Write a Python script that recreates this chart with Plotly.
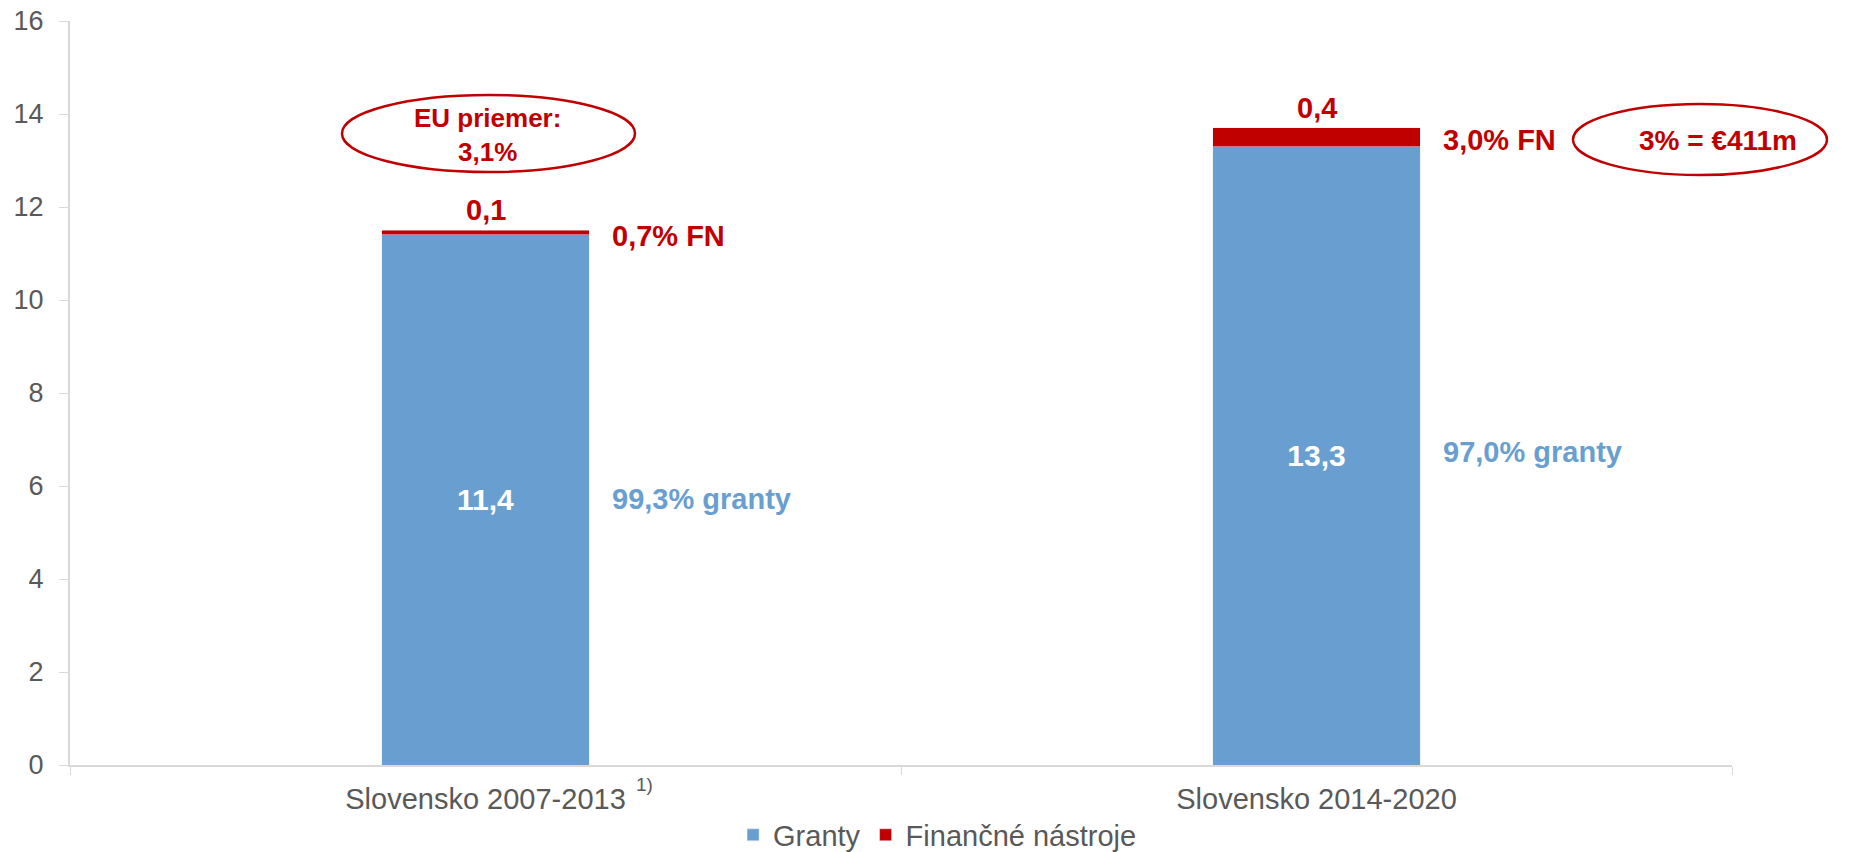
import plotly.graph_objects as go

categories = ["Slovensko 2007-2013", "Slovensko 2014-2020"]
tick_labels = ["Slovensko 2007-2013", "Slovensko 2014-2020"]
footnote_mark = "1)"
granty = [11.4, 13.3]
fin_nastroje = [0.1, 0.4]
granty_share = ["99,3% granty", "97,0% granty"]
fn_share = ["0,7% FN", "3,0% FN"]
granty_labels = ["11,4", "13,3"]
fn_labels = ["0,1", "0,4"]

BLUE = "#699FD0"
RED = "#C00000"
GREY = "#595959"
AXIS = "#D9D9D9"
FONT = "Liberation Sans, Arial, sans-serif"

# plot area geometry (pixels)
L, R_, T, B = 70, 128, 21, 87
W, H = 1860, 852
plot_w = W - L - R_
plot_h = H - T - B
YMAX = 16.0


def px_to_y(py):
    return (H - B - py) / plot_h * YMAX


def px_to_px(px):
    return (px - L) / plot_w


fig = go.Figure()
fig.add_trace(go.Bar(
    x=categories, y=granty, name="Granty", marker_color=BLUE, width=0.25,
    text=granty_labels, textposition="inside", insidetextanchor="middle",
    textfont=dict(color="white", size=30, family=FONT, weight="bold"),
    hoverinfo="skip",
))
fig.add_trace(go.Bar(
    x=categories, y=fin_nastroje, name="Finančné nástroje", marker_color=RED, width=0.25,
    hoverinfo="skip",
))

ann = []
bold = dict(family=FONT, size=29, weight="bold")
fn_shift = [-3, -3]
gr_shift = [1, 4]
for i, (g, f, lab) in enumerate(zip(granty, fin_nastroje, fn_labels)):
    ann.append(dict(x=i, y=g + f, yshift=20, text=lab, showarrow=False, yanchor="middle",
                    xanchor="center", font=dict(bold, color=RED)))
    ann.append(dict(x=i + 0.15, y=g + f / 2, yshift=fn_shift[i], text=fn_share[i],
                    showarrow=False, xanchor="left", yanchor="middle", font=dict(bold, color=RED)))
    ann.append(dict(x=i + 0.15, y=g / 2, yshift=gr_shift[i], text=granty_share[i],
                    showarrow=False, xanchor="left", yanchor="middle", font=dict(bold, color=BLUE)))

ann.append(dict(x=0.003, y=px_to_y(135), text="EU priemer:<br>3,1%", showarrow=False,
                xanchor="center", yanchor="middle", font=dict(bold, color=RED, size=26)))
ann.append(dict(xref="paper", x=px_to_px(1718), y=px_to_y(140), text="3% = €411m",
                showarrow=False, xanchor="center", yanchor="middle",
                font=dict(bold, color=RED, size=28)))
# footnote mark next to the first category label
ann.append(dict(xref="paper", yref="paper", x=px_to_px(634), y=(H - B - 784) / plot_h,
                text=footnote_mark, showarrow=False, xanchor="left", yanchor="middle",
                font=dict(family=FONT, size=19, color=GREY)))

shapes = [
    dict(type="circle", xref="paper", yref="paper",
         x0=px_to_px(342), x1=px_to_px(635),
         y0=(H - B - 172) / plot_h, y1=(H - B - 95) / plot_h,
         line=dict(color=RED, width=2.5)),
    dict(type="circle", xref="paper", yref="paper",
         x0=px_to_px(1573), x1=px_to_px(1827),
         y0=(H - B - 175) / plot_h, y1=(H - B - 104) / plot_h,
         line=dict(color=RED, width=2.5)),
]

fig.update_layout(
    barmode="stack",
    width=W, height=H,
    margin=dict(l=L, r=R_, t=T, b=B, pad=0, autoexpand=False),
    plot_bgcolor="white", paper_bgcolor="white",
    font=dict(family=FONT, color=GREY),
    annotations=ann,
    shapes=shapes,
    showlegend=True,
    legend=dict(orientation="h", x=0.522, xanchor="center", y=-0.094, yanchor="middle",
                font=dict(size=29, color=GREY), traceorder="normal",
                itemwidth=30, tracegroupgap=0),
)
fig.update_xaxes(
    tickvals=categories, ticktext=tick_labels, tickfont=dict(size=29, color=GREY),
    showline=True, linecolor=AXIS, linewidth=2,
    ticks="outside", tickson="boundaries", ticklen=8, tickcolor=AXIS, tickwidth=1,
    showgrid=False, zeroline=False, range=[-0.5, 1.5], ticklabelstandoff=7,
)
fig.update_yaxes(
    range=[0, YMAX], dtick=2, tickfont=dict(size=27, color=GREY),
    showline=True, linecolor=AXIS, linewidth=2,
    ticks="outside", ticklen=9, tickcolor=AXIS, tickwidth=1,
    showgrid=False, zeroline=False, ticklabelstandoff=10,
)

fig.write_html("out.html", config={"displayModeBar": False},
               post_script="document.body.style.margin='0';document.body.style.overflow='hidden';")
